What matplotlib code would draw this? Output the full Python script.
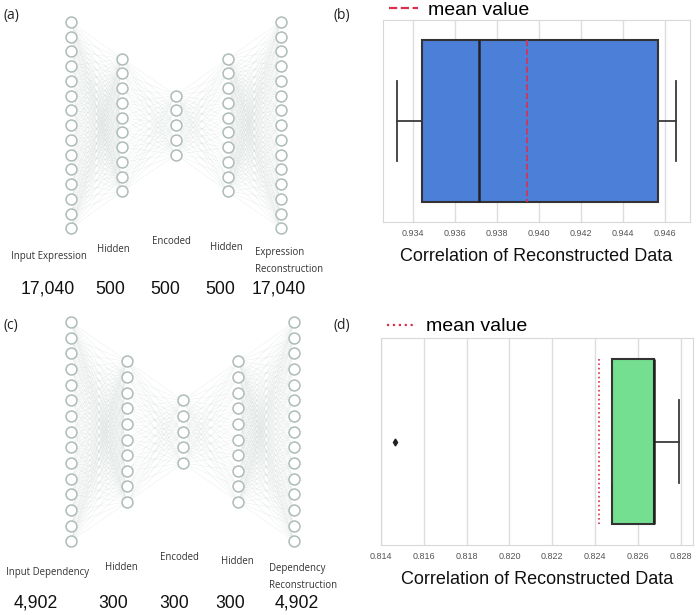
import matplotlib
matplotlib.use("Agg")
import matplotlib.pyplot as plt
from matplotlib.collections import LineCollection

# network diagrams: nodes drawn per layer, labels and real layer sizes
layer_nodes = [15, 10, 5, 10, 15]
expr_names = ["Input Expression", "Hidden", "Encoded", "Hidden", "Expression\nReconstruction"]
expr_sizes = ["17,040", "500", "500", "500", "17,040"]
dep_names = ["Input Dependency", "Hidden", "Encoded", "Hidden", "Dependency\nReconstruction"]
dep_sizes = ["4,902", "300", "300", "300", "4,902"]

# box plot summaries of reconstruction correlation
expr_box = dict(whislo=0.93326, q1=0.93446, med=0.93714, q3=0.94567,
                whishi=0.94652, mean=0.93943, fliers=[])
dep_box = dict(whislo=0.82478, q1=0.82478, med=0.82675, q3=0.82675,
               whishi=0.82790, mean=0.82420, fliers=[0.81466])
expr_ticks = [0.934, 0.936, 0.938, 0.940, 0.942, 0.944, 0.946]
dep_ticks = [0.814, 0.816, 0.818, 0.820, 0.822, 0.824, 0.826, 0.828]

W, H = 700, 615
fig = plt.figure(figsize=(7, 6.15), dpi=100)


def net_axes(top, height):
    # axes in pixel units for the network sketch
    ax = fig.add_axes([0, 1 - (top + height) / H, 350 / W, height / H])
    ax.set_xlim(0, 350)
    ax.set_ylim(height, 0)
    ax.axis("off")
    return ax


def draw_net(ax, xs, yc, gap, names, name_pos, sizes, size_x, size_y, tag):
    cols = []
    for x, n in zip(xs, layer_nodes):
        cols.append([(x, yc + (i - (n - 1) / 2) * gap) for i in range(n)])
    segs = [[p, q] for a, b in zip(cols[:-1], cols[1:]) for p in a for q in b]
    ax.add_collection(LineCollection(segs, colors="#d4dcda", linewidths=0.3, alpha=0.55))
    for col in cols:
        ax.scatter([p[0] for p in col], [p[1] for p in col], s=62, facecolors="white",
                   edgecolors="#aebcb8", linewidths=1.1, zorder=3)
    for i, (name, (nx, ny)) in enumerate(zip(names, name_pos)):
        ha = "left" if i == len(names) - 1 else "center"
        ax.text(nx, ny, name, ha=ha, va="center", fontsize=6.9, family="Open Sans",
                color="#333333", linespacing=1.75)
    for x, s in zip(size_x, sizes):
        ax.text(x, size_y, s, ha="center", va="center", fontsize=12.7,
                family="Liberation Sans", color="#111111")
    ax.text(3, 15, "(%s)" % tag[0], ha="left", va="center", fontsize=10,
            family="Open Sans", color="#222222")
    ax.text(334, 15, "(%s)" % tag[1], ha="left", va="center", fontsize=10,
            family="Open Sans", color="#222222", clip_on=False)


# panel (a)
ax_a = net_axes(0, 300)
draw_net(ax_a, [70.7, 122.3, 176, 227.7, 281], 125, 14.75, expr_names,
         [(48.7, 256), (113, 250), (171, 242), (226, 247), (255, 261)],
         expr_sizes, [48, 110, 165, 220, 279], 289, "ab")

# panel (c)
ax_c = net_axes(310, 305)
draw_net(ax_c, [70.7, 127.3, 182.7, 238.3, 294.3], 121.7, 15.65, dep_names,
         [(48, 262), (121, 257), (179, 247), (237, 252), (269, 267)],
         dep_sizes, [36, 113, 174, 230, 297], 293, "cd")


def box_panel(rect, stats, color, ticks, mean_ls, legend_y):
    ax = fig.add_axes(rect)
    ax.bxp([stats], positions=[0], widths=0.8, orientation="horizontal", patch_artist=True,
           showmeans=True, meanline=True, capwidths=[0.4],
           boxprops=dict(facecolor=color, edgecolor="#333333", linewidth=1.5),
           medianprops=dict(color="#222222", linewidth=1.8),
           whiskerprops=dict(color="#3a3a3a", linewidth=1.3),
           capprops=dict(color="#3a3a3a", linewidth=1.3),
           meanprops=dict(color="#d9304f", linestyle=mean_ls, linewidth=1.2),
           flierprops=dict(marker="d", markersize=3.5, markerfacecolor="#222222",
                           markeredgecolor="#222222"))
    lo = min([stats["whislo"]] + stats["fliers"])
    hi = max([stats["whishi"]] + stats["fliers"])
    pad = (hi - lo) * 0.05
    ax.set_xlim(lo - pad, hi + pad)
    ax.set_ylim(0.5, -0.5)
    ax.set_yticks([])
    ax.set_xticks(ticks)
    ax.set_xticklabels(["%.3f" % t for t in ticks], family="Liberation Sans")
    ax.tick_params(axis="x", length=0, pad=5, labelsize=6.5, labelcolor="#555555")
    ax.grid(axis="x", color="#dddddd", linewidth=1)
    ax.set_axisbelow(True)
    for sp in ax.spines.values():
        sp.set_color("#d8d8d8")
    ax.set_xlabel("Correlation of Reconstructed Data", fontsize=13, family="Liberation Sans",
                  color="#111111", labelpad=7)
    h = plt.Line2D([], [], color="#d9304f", linestyle=mean_ls, linewidth=1.6)
    ax.legend([h], ["mean value"], loc="center left", bbox_to_anchor=(0.02, legend_y),
              frameon=False, borderpad=0, borderaxespad=0, handlelength=1.5,
              handletextpad=0.5, prop=dict(family="Liberation Sans", size=14))
    return ax


box_panel([383 / W, 1 - 222 / H, 307 / W, 202 / H], expr_box, "#4c7fd8", expr_ticks, "--", 1.05)
box_panel([380.7 / W, 1 - 545 / H, 312.3 / W, 207 / H], dep_box, "#74df90", dep_ticks, ":", 1.055)

fig.savefig("out.png", dpi=100)
